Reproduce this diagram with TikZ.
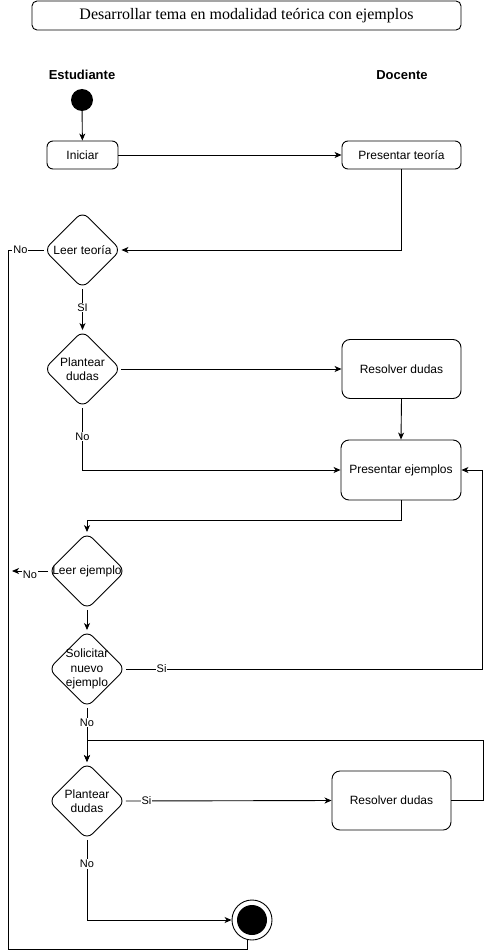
\documentclass[tikz,border=0pt]{standalone}
\usepackage{fontspec}
\setmainfont{Liberation Sans}
\newfontfamily\titlefont{Liberation Serif}
\usetikzlibrary{shapes.geometric,arrows.meta}
\begin{document}
\begin{tikzpicture}[x=1pt,y=-1pt,
  font=\fontsize{12}{14.5}\selectfont,
  box/.style={draw, rounded corners=6pt, line width=0.9pt, inner sep=0},
  dec/.style={draw, diamond, aspect=1, minimum width=77pt, minimum height=77pt, inner sep=0, rounded corners=8pt, line width=0.9pt},
  arr/.style={-{Stealth[length=7pt,width=6pt,inset=2pt]}, line width=0.9pt},
  ln/.style={line width=0.9pt},
  lab/.style={fill=white, inner sep=1pt, font=\fontsize{11}{13}\selectfont},
  hdr/.style={font=\bfseries\fontsize{13}{15}\selectfont}]
\useasboundingbox (0,0) rectangle (488,952);

\node[draw, rounded corners=5pt, line width=0.9pt, minimum width=429pt, minimum height=29pt, inner sep=0,
  font=\titlefont\fontsize{16}{18}\selectfont] (title) at (246.5,15.5) {Desarrollar tema en modalidad teórica con ejemplos};

\node[hdr] (est) at (82,75) {Estudiante};
\node[hdr] (doc) at (402,75) {Docente};

\node[circle, fill, minimum size=22pt, inner sep=0] (start) at (82,100) {};
\node[box, minimum width=71pt, minimum height=28pt] (ini) at (82.5,155) {Iniciar};
\node[box, minimum width=119pt, minimum height=28pt] (pt) at (401.5,155) {Presentar teoría};
\node[dec] (lt) at (82.5,250) {};
\node at (lt) {Leer teoría};
\node[dec] (pd1) at (82.5,369) {};
\node[align=center] at (pd1) {Plantear\\dudas};
\node[box, rounded corners=8pt, minimum width=119pt, minimum height=59pt] (rd1) at (401.5,369) {Resolver dudas};
\node[box, rounded corners=8pt, minimum width=120pt, minimum height=60pt] (pe) at (401,470) {Presentar ejemplos};
\node[dec] (le) at (87,571) {};
\node at (le) {Leer ejemplo};
\node[dec] (sn) at (87,669) {};
\node[align=center] at (sn) {Solicitar\\nuevo\\ejemplo};
\node[dec] (pd2) at (87,801) {};
\node[align=center] at (pd2) {Plantear\\dudas};
\node[box, rounded corners=8pt, minimum width=119pt, minimum height=59pt] (rd2) at (391.5,800.5) {Resolver dudas};
\node[circle, draw, line width=0.9pt, minimum size=40pt, inner sep=0] (end) at (252,920) {};
\node[circle, fill, minimum size=30pt, inner sep=0] (endin) at (end) {};

\coordinate (c1) at (8,250);
\coordinate (c2) at (8,949);
\coordinate (c4) at (12,571);
\coordinate (rx1) at (482,470);
\coordinate (rx2) at (483,740);

\draw[arr] (start) -- (ini);
\draw[arr] (ini) -- (pt);
\draw[arr] (pt.south) |- (lt.east);
\draw[ln] (lt.west) -- node[lab,pos=0.65]{No} (c1) -- (c2) -| ([xshift=-5pt]end.south);
\draw[arr] (lt.south) -- node[lab,pos=0.45]{SI} (pd1.north);
\draw[arr] (pd1.east) -- (rd1.west);
\draw[arr] (rd1.south) -- (pe.north);
\draw[arr] (pd1.south) |- node[lab,pos=0.23]{No} (pe.west);
\draw[arr] (pe.south) -- ++(0,20) -| (le.north);
\draw[arr] (le.west) -- node[lab,pos=0.5,yshift=-4pt]{No} (c4);
\draw[arr] (le.south) -- (sn.north);
\draw[arr] (sn.east) -| node[lab,pos=0.05]{Si} (rx1) -- (pe.east);
\draw[arr] (sn.south) -- node[lab,pos=0.27]{No} (pd2.north);
\draw[arr] (rd2.east) -| (rx2) -| (pd2.north);
\draw[arr] (pd2.east) -- node[lab,pos=0.1]{Si} (rd2.west);
\draw[arr] (pd2.south) |- node[lab,pos=0.15]{No} (end.west);
\end{tikzpicture}
\end{document}
